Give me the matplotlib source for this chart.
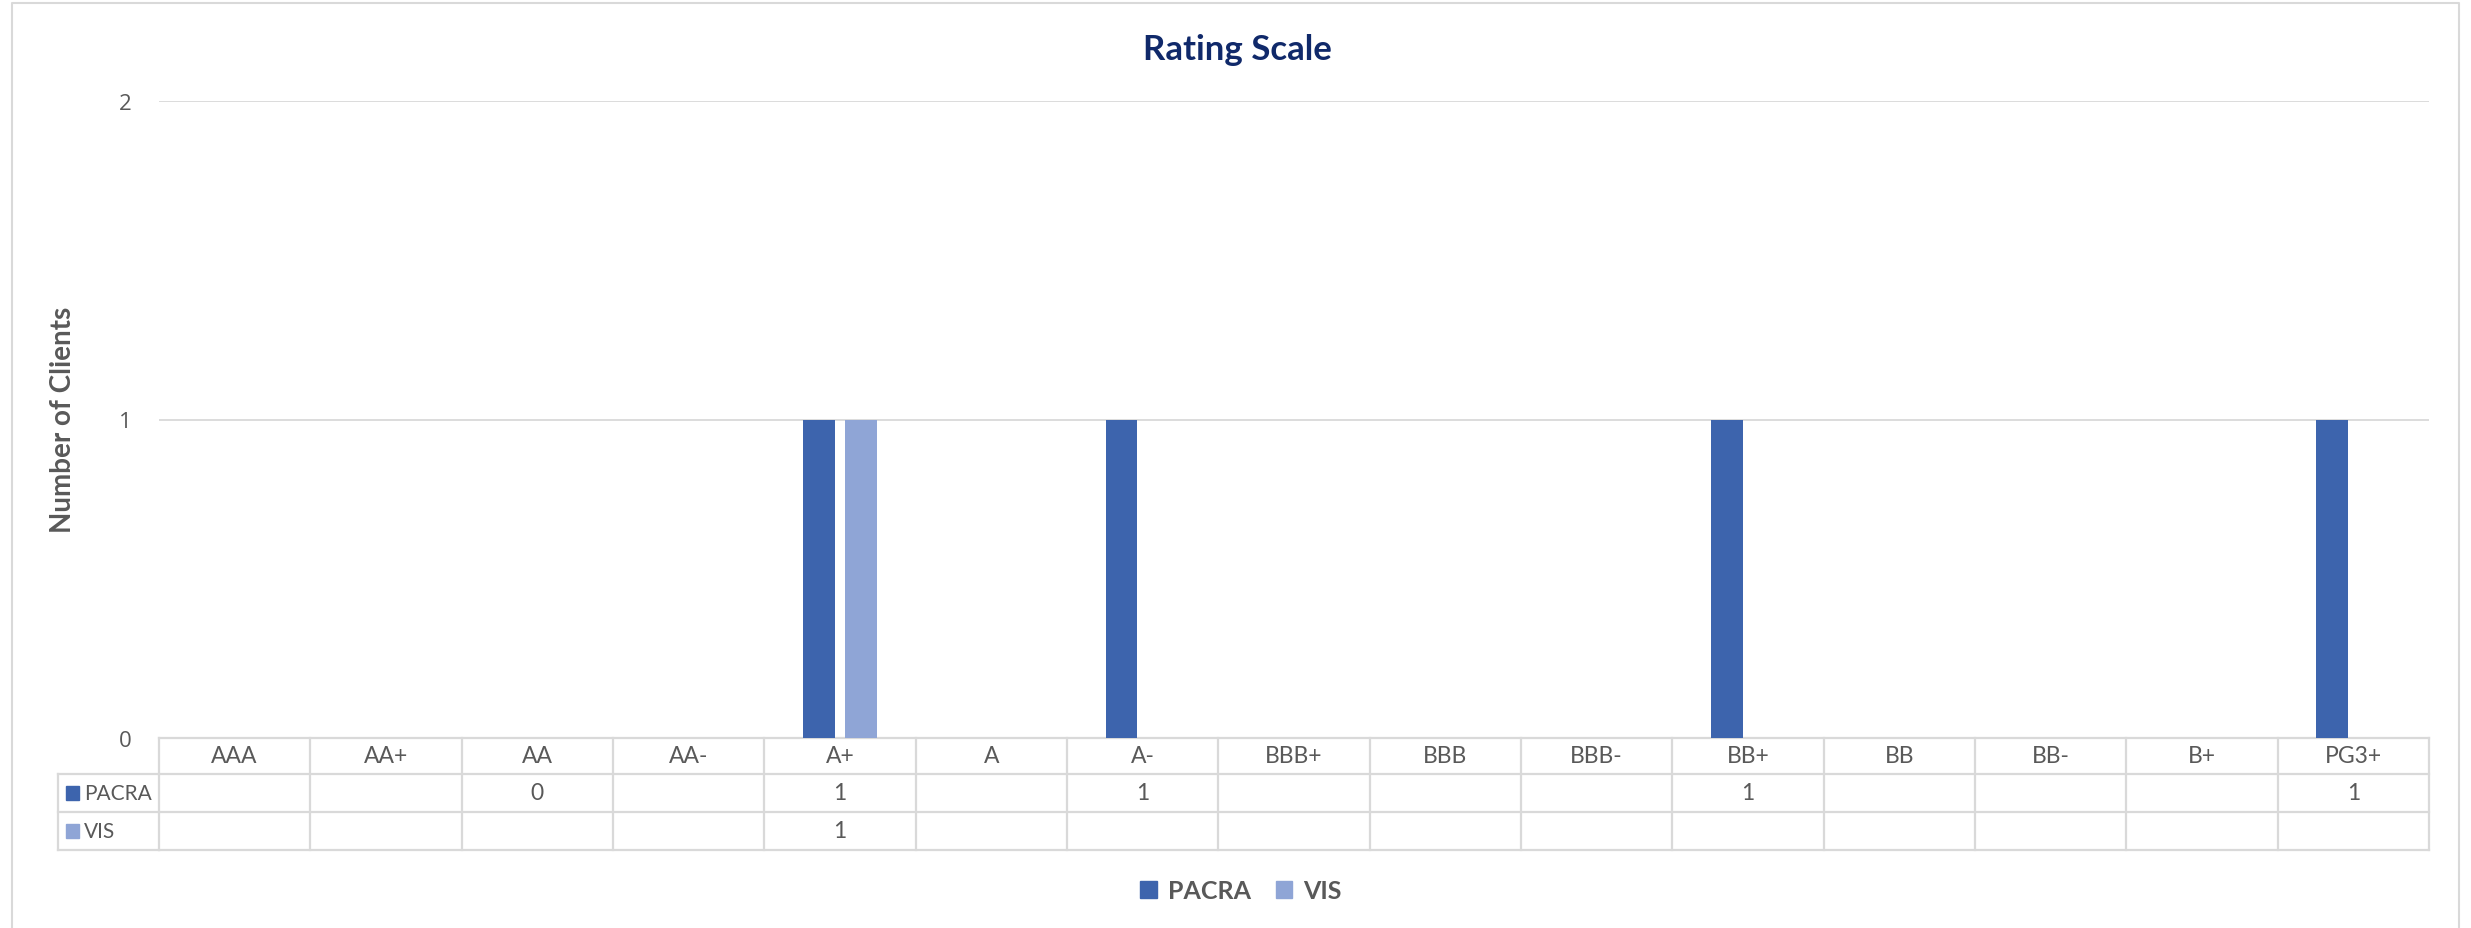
import numpy as np
import matplotlib
matplotlib.use('Agg')
import matplotlib.pyplot as plt
import matplotlib.patches as mpatches
from matplotlib.transforms import blended_transform_factory

# ── Data ───────────────────────────────────────────────────────────────────────
ratings = ['AAA', 'AA+', 'AA', 'AA-', 'A+', 'A', 'A-', 'BBB+', 'BBB',
           'BBB-', 'BB+', 'BB', 'BB-', 'B+', 'PG3+']
pacra = [None, None, 0, None, 1, None, 1, None, None, None, 1, None, None, None, 1]
vis   = [None, None, None, None, 1, None, None, None, None, None, None, None, None, None, None]
series_names = ['PACRA', 'VIS']
series_colors = ['#3D64AD', '#8FA5D6']

W, H = 2471, 929
GREY = '#595959'
LINE = '#D9D9D9'
FONT = 'Lato'

def fx(px):
    return px / W

def fy(py):
    return 1 - py / H

fig = plt.figure(figsize=(W / 100, H / 100), dpi=100)
fig.patch.set_facecolor('white')

# outer chart border (bottom edge cut off in the reference)
fig.add_artist(plt.Line2D([fx(12), fx(12), fx(2459), fx(2459)],
                          [fy(935), fy(4), fy(4), fy(935)],
                          color=LINE, lw=1.5))

ax = fig.add_axes([fx(159), fy(739), fx(2429) - fx(159), fy(102) - fy(739)])
x = np.arange(len(ratings))
bw, off = 0.21, 0.14
vals_p = np.array([np.nan if v is None else v for v in pacra], dtype=float)
vals_v = np.array([np.nan if v is None else v for v in vis], dtype=float)
ax.bar(x - off, vals_p, width=bw, color=series_colors[0], zorder=3)
ax.bar(x + off, vals_v, width=bw, color=series_colors[1], zorder=3)

ax.set_xlim(-0.5, len(ratings) - 0.5)
ax.set_ylim(0, 2)
ax.set_yticks([0, 1, 2])
ax.set_yticklabels(['0', '1', '2'], fontsize=16, color=GREY, family='Open Sans')
ax.tick_params(axis='y', length=0, pad=20)
ax.set_xticks([])
ax.yaxis.grid(True, color=LINE, lw=1.3, zorder=0)
for s in ax.spines.values():
    s.set_visible(False)

# y axis title placed in figure pixels
fig.text(fx(63), fy(420), 'Number of Clients', rotation=90, ha='center', va='center',
         fontsize=20, fontweight='bold', color=GREY, family=FONT)

fig.text(fx(1237), fy(50), 'Rating Scale', ha='center', va='center',
         fontsize=25, fontweight='bold', color='#10296A', family=FONT)

# ── Data table under the axis ──────────────────────────────────────────────────
tr = blended_transform_factory(ax.transData, fig.transFigure)
row_y = [739, 775, 813, 851]
x_left, x_right = -0.5, len(ratings) - 0.5
lkw = dict(color=LINE, lw=1.6, clip_on=False, transform=tr, zorder=1)
ax.plot([x_left, x_right], [fy(739)] * 2, **lkw)
for py in row_y[1:]:
    ax.plot([x_left, x_right], [fy(py)] * 2, **lkw)
    fig.add_artist(plt.Line2D([fx(58), fx(159)], [fy(py)] * 2, color=LINE, lw=1.6))
for i in range(len(ratings) + 1):
    ax.plot([i - 0.5] * 2, [fy(739), fy(851)], **lkw)
fig.add_artist(plt.Line2D([fx(58)] * 2, [fy(775), fy(851)], color=LINE, lw=1.6))

tkw = dict(ha='center', va='center', fontsize=16.5, color=GREY, family=FONT,
           transform=tr)
for i, r in enumerate(ratings):
    ax.text(i, fy(757), r, **tkw)
for row, vals in enumerate([pacra, vis]):
    yc = fy((row_y[row + 1] + row_y[row + 2]) / 2)
    for i, v in enumerate(vals):
        if v is not None:
            ax.text(i, yc, str(v), **tkw)
    fig.add_artist(mpatches.Rectangle((fx(66), yc - 7 / H), 13 / W, 14 / H,
                                      color=series_colors[row]))
    fig.text(fx(84), yc, series_names[row], ha='left', va='center',
             fontsize=15, color=GREY, family=FONT)

# ── Legend ─────────────────────────────────────────────────────────────────────
handles = [mpatches.Patch(color=c, label=n) for n, c in zip(series_names, series_colors)]
fig.legend(handles=handles, loc='center', bbox_to_anchor=(fx(1241), fy(892)),
           ncol=2, frameon=False, handlelength=0.65, handleheight=0.65,
           handletextpad=0.45, columnspacing=1.0,
           prop=dict(family=FONT, weight='bold', size=18))
for t in fig.legends[0].get_texts():
    t.set_color(GREY)

fig.savefig('out.png', dpi=100)
